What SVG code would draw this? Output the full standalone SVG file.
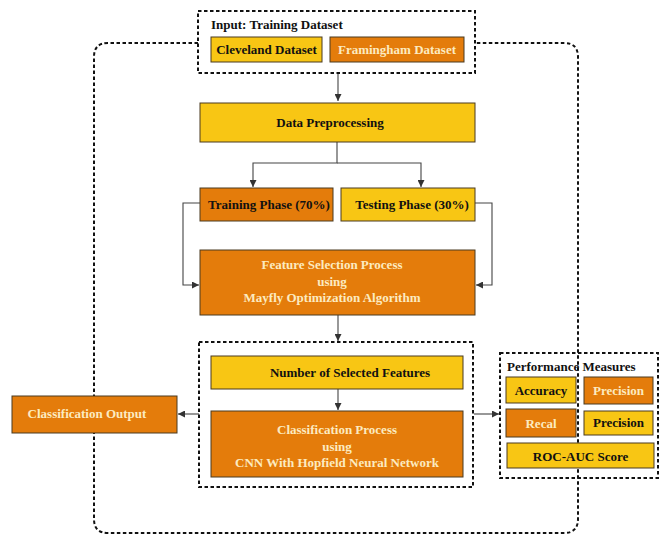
<svg xmlns="http://www.w3.org/2000/svg" width="662" height="537" viewBox="0 0 662 537">
<style>
.y{fill:#F8C614;stroke:#4a3a20;stroke-width:1}
.o{fill:#E47C0B;stroke:#4a3a20;stroke-width:1}
.d{fill:none;stroke:#111;stroke-width:2;stroke-dasharray:3.5 2.5}
.c{fill:none;stroke:#444;stroke-width:1.1}
text{font-family:"Liberation Serif","Times New Roman",serif;font-weight:bold;font-size:13px;text-anchor:middle}
.dk{fill:#111}
.lt{fill:#FCEBC0}
</style>
<defs>
<marker id="ah" viewBox="0 0 10 10" refX="10" refY="5" markerWidth="7" markerHeight="7" markerUnits="userSpaceOnUse" orient="auto">
<path d="M0,0 L10,5 L0,10 z" fill="#333"/>
</marker>
</defs>
<rect width="662" height="537" fill="#fff"/>
<g id="loop">
<path class="d" d="M198,43 H108 Q94,43 94,57 V519 Q94,533 108,533 H564 Q578,533 578,519 V57 Q578,43 564,43 H475"/>
</g>
<g id="connectors">
<path class="c" d="M338,73 V101" marker-end="url(#ah)"/>
<path class="c" d="M337,142 V163 H253 V187" marker-end="url(#ah)"/>
<path class="c" d="M337,163 H421 V187" marker-end="url(#ah)"/>
<path class="c" d="M200,203 H183 V285 H199" marker-end="url(#ah)"/>
<path class="c" d="M475,203 H492 V285 H476" marker-end="url(#ah)"/>
<path class="c" d="M338,315 V341" marker-end="url(#ah)"/>
<path class="c" d="M338,389 V410" marker-end="url(#ah)"/>
<path class="c" d="M199,414 H178" marker-end="url(#ah)"/>
<path class="c" d="M474,414 H499" marker-end="url(#ah)"/>
</g>
<g id="input">
<rect class="d" x="198" y="11" width="277" height="62" fill="#fff"/>
<text x="211" y="29" class="dk" style="text-anchor:start">Input: Training Dataset</text>
<g id="cleveland"><rect class="y" x="211" y="37" width="111" height="25"/><text x="266.5" y="54" class="dk">Cleveland Dataset</text></g>
<g id="framingham"><rect class="o" x="330" y="37" width="134" height="25"/><text x="397" y="54" class="lt">Framingham Dataset</text></g>
</g>
<g id="preprocessing"><rect class="y" x="200" y="103" width="275" height="39"/><text x="330" y="127" class="dk">Data Preprocessing</text></g>
<g id="training"><rect class="o" x="200" y="188" width="133" height="33"/><text x="269" y="209" class="dk">Training Phase (70%)</text></g>
<g id="testing"><rect class="y" x="341" y="188" width="134" height="33"/><text x="412" y="209" class="dk">Testing Phase (30%)</text></g>
<g id="feature"><rect class="o" x="200" y="250" width="275" height="65"/>
<text x="332" y="269" class="lt">Feature Selection Process</text>
<text x="332" y="286" class="lt">using</text>
<text x="332" y="302" class="lt">Mayfly Optimization Algorithm</text></g>
<g id="classgroup">
<rect class="d" x="199" y="342" width="274" height="145"/>
<g id="selected"><rect class="y" x="211" y="356" width="252" height="33"/><text x="350" y="377" class="dk">Number of Selected Features</text></g>
<g id="classification"><rect class="o" x="211" y="411" width="252" height="66"/>
<text x="337" y="434" class="lt">Classification Process</text>
<text x="337" y="451" class="lt">using</text>
<text x="337" y="467" class="lt">CNN With Hopfield Neural Network</text></g>
</g>
<g id="output"><rect class="o" x="12" y="396" width="165" height="37"/><text x="87" y="418" class="lt">Classification Output</text></g>
<g id="performance">
<rect class="d" x="500" y="353" width="158" height="125"/>
<text x="507" y="371" class="dk" style="text-anchor:start">Performance Measures</text>
<g id="accuracy"><rect class="y" x="506" y="377" width="70" height="26"/><text x="541" y="395" class="dk">Accuracy</text></g>
<g id="precision1"><rect class="o" x="584" y="377" width="69" height="27"/><text x="618.5" y="395" class="lt">Precision</text></g>
<g id="recal"><rect class="o" x="506" y="409" width="70" height="28"/><text x="541" y="428" class="lt">Recal</text></g>
<g id="precision2"><rect class="y" x="584" y="411" width="69" height="24"/><text x="618.5" y="427" class="dk">Precision</text></g>
<g id="roc"><rect class="y" x="507" y="443" width="147" height="25"/><text x="580.5" y="461" class="dk">ROC-AUC Score</text></g>
</g>
</svg>
